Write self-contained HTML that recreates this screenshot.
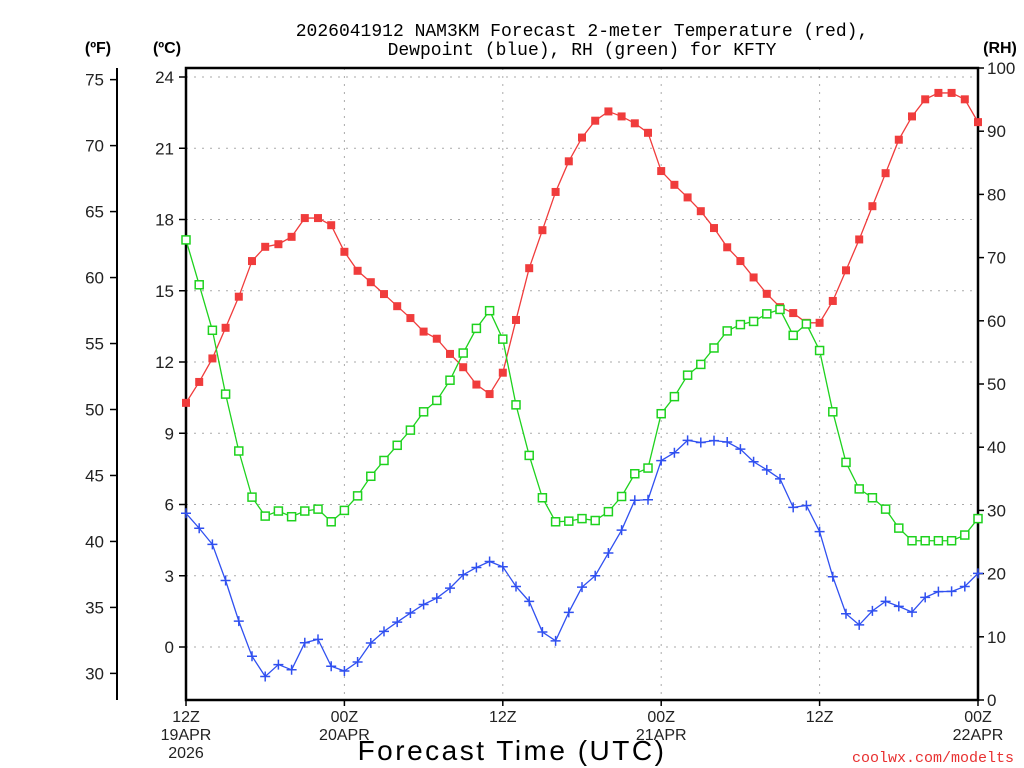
<!DOCTYPE html>
<html><head><meta charset="utf-8"><style>
html,body{margin:0;padding:0;background:#fff;}
svg{display:block;font-family:"Liberation Sans",sans-serif;}
</style></head><body>
<svg id="chart" width="1024" height="768" viewBox="0 0 1024 768" xmlns="http://www.w3.org/2000/svg">
<text x="582" y="36" text-anchor="middle" font-size="18" font-family="Liberation Mono, monospace">2026041912 NAM3KM Forecast 2-meter Temperature (red),</text>
<text x="582" y="55" text-anchor="middle" font-size="18" font-family="Liberation Mono, monospace">Dewpoint (blue), RH (green) for KFTY</text>
<text x="98" y="53" text-anchor="middle" font-size="16" font-weight="bold">(ºF)</text>
<text x="167" y="53" text-anchor="middle" font-size="16" font-weight="bold">(ºC)</text>
<text x="1000" y="53" text-anchor="middle" font-size="16" font-weight="bold">(RH)</text>
<text x="512" y="760" text-anchor="middle" font-size="28" letter-spacing="2.5">Forecast Time (UTC)</text>
<text x="1014" y="762" text-anchor="end" font-size="15" fill="#e83030" font-family="Liberation Mono, monospace">coolwx.com/modelts</text>
<g id="grid"></g><g id="axes"></g><g id="series"></g>
</svg>
<script>
const hours = [];
for (let h = 0; h <= 60; h++) hours.push(h);
const tempC = [10.28,11.16,12.15,13.44,14.75,16.25,16.85,16.96,17.27,18.06,18.06,17.76,16.64,15.84,15.36,14.86,14.35,13.85,13.28,12.98,12.34,11.78,11.05,10.65,11.55,13.77,15.95,17.55,19.16,20.45,21.45,22.16,22.55,22.34,22.05,21.65,20.04,19.46,18.93,18.35,17.64,16.83,16.25,15.56,14.87,14.31,14.06,13.65,13.65,14.57,15.86,17.16,18.56,19.95,21.36,22.34,23.06,23.33,23.33,23.06,22.1];
const dewC = [5.63,5.0,4.32,2.8,1.09,-0.39,-1.24,-0.74,-0.96,0.18,0.32,-0.81,-1.01,-0.63,0.17,0.66,1.05,1.43,1.79,2.06,2.48,3.04,3.35,3.6,3.38,2.55,1.92,0.63,0.26,1.46,2.52,3.0,3.96,4.92,6.18,6.2,7.85,8.18,8.7,8.61,8.69,8.63,8.33,7.8,7.46,7.08,5.88,5.96,4.86,2.96,1.4,0.93,1.52,1.92,1.71,1.47,2.09,2.33,2.34,2.55,3.1];
const rh = [72.8,65.7,58.5,48.4,39.4,32.1,29.1,29.9,29.0,29.9,30.2,28.2,30.0,32.3,35.4,37.9,40.3,42.7,45.6,47.4,50.6,54.9,58.8,61.6,57.1,46.7,38.7,32.0,28.2,28.3,28.7,28.4,29.8,32.2,35.8,36.7,45.3,48.0,51.4,53.1,55.7,58.4,59.4,59.9,61.1,61.8,57.7,59.5,55.3,45.6,37.6,33.4,32.0,30.2,27.2,25.2,25.2,25.2,25.2,26.1,28.7];
const cTicks = [0,3,6,9,12,15,18,21,24];
const fTicks = [30,35,40,45,50,55,60,65,70,75];
const rhTicks = [0,10,20,30,40,50,60,70,80,90,100];
const xTickHours = [0,12,24,36,48,60];
const xTickLabels = [["12Z","19APR","2026"],["00Z","20APR"],["12Z"],["00Z","21APR"],["12Z"],["00Z","22APR"]];

const L=186,R=978,T=68,B=700;
const xs = h => L + h*(R-L)/60;
const yC = c => 647 - c*23.75;
const yF = f => yC((f-32)*5/9);
const yRH = r => B - r*(B-T)/100;
const NS="http://www.w3.org/2000/svg";
function mk(tag, parent, attrs){const e=document.createElementNS(NS,tag);for(const k in attrs)e.setAttribute(k,attrs[k]);parent.appendChild(e);return e;}
const grid=document.getElementById('grid'), axes=document.getElementById('axes'), ser=document.getElementById('series');

cTicks.forEach(c=>{
  const y=yC(c);
  const g=mk('line',grid,{x1:L,x2:R,y1:y,y2:y,stroke:'#aaa','stroke-dasharray':'2,6'});
   
  const t=mk('line',axes,{x1:L-7,x2:L,y1:y,y2:y,stroke:'#000','stroke-width':1.5});
   
  const tx=mk('text',axes,{x:L-12,y:y+6,'text-anchor':'end','font-size':17,fill:'#222'}); tx.textContent=c;
   
});
xTickHours.forEach((h,i)=>{
  const x=xs(h);
  if(h>0&&h<60){const g=mk('line',grid,{x1:x,x2:x,y1:T,y2:B,stroke:'#aaa','stroke-dasharray':'2,6'});
   }
  const t=mk('line',axes,{x1:x,x2:x,y1:B,y2:B+6,stroke:'#000','stroke-width':1.5});
   
  xTickLabels[i].forEach((s,j)=>{const tx=mk('text',axes,{x:x,y:B+22+j*18,'text-anchor':'middle','font-size':16,fill:'#222'});tx.textContent=s;
     });
});
const fl=mk('line',axes,{x1:117,x2:117,y1:T,y2:B,stroke:'#000','stroke-width':2});
 
fTicks.forEach(f=>{const y=yF(f);
  const t=mk('line',axes,{x1:110,x2:117,y1:y,y2:y,stroke:'#000','stroke-width':1.5});
   
  const tx=mk('text',axes,{x:104,y:y+6,'text-anchor':'end','font-size':17,fill:'#222'}); tx.textContent=f;
   
});
rhTicks.forEach(r=>{const y=yRH(r);
  const t=mk('line',axes,{x1:R,x2:R+6,y1:y,y2:y,stroke:'#000','stroke-width':1.5});
   
  const tx=mk('text',axes,{x:R+9,y:y+6,'text-anchor':'start','font-size':17,fill:'#222'}); tx.textContent=r;
   
});
const fr=mk('rect',axes,{x:L,y:T,width:R-L,height:B-T,fill:'none',stroke:'#000','stroke-width':2.5});
 

function line(vals, yf, color, name){
  const p=mk('polyline',ser,{points:vals.map((v,i)=>xs(hours[i])+','+yf(v)).join(' '),fill:'none',stroke:color,'stroke-width':1.3});
   
}
line(tempC,yC,'#f03c3c','temperature-line');
line(rh,yRH,'#1ed21e','rh-line');
line(dewC,yC,'#3050f0','dewpoint-line');
tempC.forEach((v,i)=>{const m=mk('rect',ser,{x:xs(hours[i])-4,y:yC(v)-4,width:8,height:8,fill:'#f03c3c'});
   });
rh.forEach((v,i)=>{const m=mk('rect',ser,{x:xs(hours[i])-4,y:yRH(v)-4,width:8,height:8,fill:'#fff',stroke:'#1ed21e','stroke-width':1.5});
   });
dewC.forEach((v,i)=>{const x=xs(hours[i]),y=yC(v);
  const m=mk('path',ser,{d:`M${x-5},${y}H${x+5}M${x},${y-5}V${y+5}`,stroke:'#3050f0','stroke-width':1.5});
   });
</script>
</body></html>
